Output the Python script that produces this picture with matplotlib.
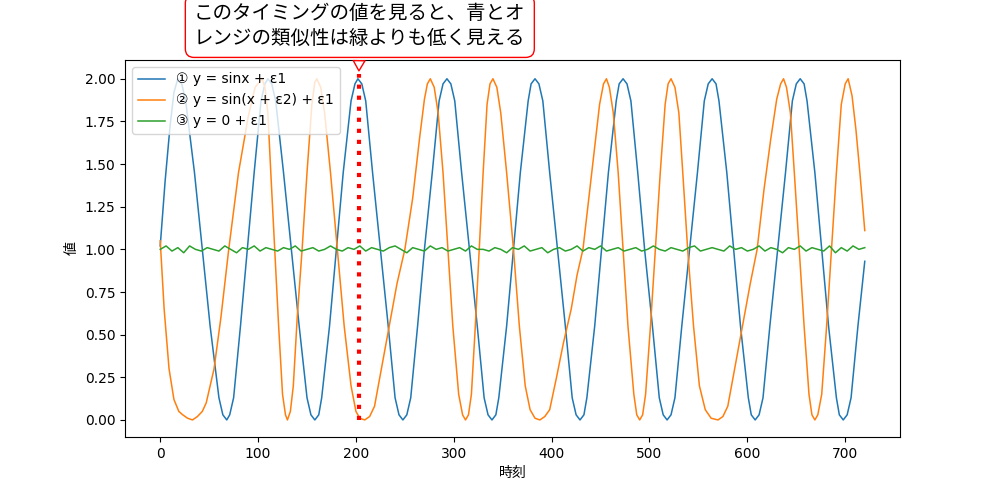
import matplotlib
matplotlib.use("Agg")
import matplotlib.pyplot as plt

plt.rcParams['font.family'] = ['DejaVu Sans', 'Noto Sans CJK JP']

blue_x = [0,5,10,14,18,22,26,35,43,51,60,64,68,71,75,82,89,96,103,107,110,114,118,126,134,142,150,154,158,
          162,165,173,180,187,195,199,202,206,210,217,225,233,240,244,248,252,256,263,270,278,285,289,293,
          297,301,308,316,324,331,335,339,343,346,354,361,368,376,379,383,387,391,398,406,414,421,425,429,
          433,436,444,451,458,466,469,473,477,481,488,495,503,510,514,518,522,526,533,541,549,556,560,564,
          568,571,579,586,593,601,604,608,612,616,623,631,639,646,650,654,658,661,669,676,683,691,694,698,
          702,706,713,720]
blue_y = [1.02,1.40,1.72,1.92,2.0,1.97,1.87,1.45,1.0,0.55,0.13,0.03,0.0,0.03,0.13,0.55,1.0,1.45,1.87,1.97,2.0,
          1.97,1.87,1.45,1.0,0.55,0.13,0.03,0.0,0.03,0.13,0.55,1.0,1.45,1.87,1.97,2.0,1.97,1.87,1.45,1.0,0.55,
          0.13,0.03,0.0,0.03,0.13,0.55,1.0,1.45,1.87,1.97,2.0,1.97,1.87,1.45,1.0,0.55,0.13,0.03,0.0,0.03,0.13,
          0.55,1.0,1.45,1.87,1.97,2.0,1.97,1.87,1.45,1.0,0.55,0.13,0.03,0.0,0.03,0.13,0.55,1.0,1.45,1.87,1.97,
          2.0,1.97,1.87,1.45,1.0,0.55,0.13,0.03,0.0,0.03,0.13,0.55,1.0,1.45,1.87,1.97,2.0,1.97,1.87,1.45,1.0,
          0.55,0.13,0.03,0.0,0.03,0.13,0.55,1.0,1.45,1.87,1.97,2.0,1.97,1.87,1.45,1.0,0.55,0.13,0.03,0.0,
          0.03,0.13,0.55,0.93]

orange_x = [0,4,9,14,19,23,28,33,38,43,47,55,62,70,80,90,97,104,107,110,113,117,121,125,128,130,
            133,136,140,145,150,155,158,160,164,168,174,181,188,195,200,204,209,214,219,226,234,242,250,
            258,265,270,273,276,280,284,289,294,299,305,309,312,315,318,322,326,330,334,337,340,
            344,348,354,361,367,373,378,383,388,393,398,405,412,420,426,432,438,444,449,453,456,
            459,463,468,473,478,484,487,490,493,496,501,506,511,516,519,522,
            526,530,534,539,545,551,557,563,570,575,580,587,595,603,610,617,624,630,634,637,
            640,644,648,653,658,663,666,669,672,676,681,686,691,696,700,703,707,711,715,720]
orange_y = [1.05,0.65,0.3,0.12,0.05,0.03,0.01,0.0,0.02,0.05,0.1,0.3,0.6,1.0,1.45,1.78,1.95,2.0,1.95,1.8,1.45,
            1.0,0.55,0.15,0.03,0.0,0.05,0.2,0.6,1.0,1.45,1.85,1.98,2.0,1.95,1.8,1.45,1.0,0.55,0.2,0.05,0.01,
            0.0,0.02,0.08,0.3,0.55,0.8,1.0,1.3,1.65,1.88,1.97,2.0,1.95,1.8,1.45,1.0,0.55,0.15,0.03,0.0,
            0.03,0.15,0.55,1.0,1.45,1.85,1.97,2.0,1.95,1.8,1.45,1.0,0.55,0.2,0.06,0.01,0.0,0.02,0.06,0.25,
            0.45,0.65,0.85,1.0,1.3,1.6,1.85,1.97,2.0,1.95,1.8,1.45,1.0,0.55,0.15,0.03,0.0,0.03,0.15,0.55,1.0,
            1.45,1.85,1.97,2.0,1.95,1.8,1.45,1.0,0.55,0.2,0.06,0.01,0.0,0.02,0.08,0.3,0.55,0.8,1.0,1.35,1.65,
            1.88,1.97,2.0,1.95,1.8,1.45,1.0,0.55,0.15,0.03,0.0,0.03,0.15,0.55,1.0,1.45,1.85,1.97,2.0,1.9,1.7,
            1.45,1.11]

green_x = [0,6,12,18,24,30,36,42,48,54,60,66,72,78,84,90,96,102,108,114,120,126,132,138,144,150,156,162,
           168,174,180,186,192,198,204,210,216,222,228,234,240,246,252,258,264,270,276,282,288,294,300,
           306,312,318,324,330,336,342,348,354,360,366,372,378,384,390,396,402,408,414,420,426,432,438,
           444,450,456,462,468,474,480,486,492,498,504,510,516,522,528,534,540,546,552,558,564,570,576,
           582,588,594,600,606,612,618,624,630,636,642,648,654,660,666,672,678,684,690,696,702,708,714,720]
green_y = [1.0,1.02,0.99,1.01,0.98,1.02,1.0,0.99,1.01,1.0,0.99,1.02,1.0,0.98,1.01,1.0,1.02,0.99,1.01,1.0,
           0.99,1.01,1.0,1.02,0.99,1.0,1.01,0.99,1.0,1.02,1.0,0.99,1.01,1.0,1.02,0.99,1.01,1.0,0.99,1.01,
           1.02,1.0,0.98,1.01,1.0,0.99,1.02,1.0,1.01,0.99,1.0,1.01,0.99,1.02,1.0,1.0,0.99,1.01,1.0,0.98,
           1.01,1.0,1.02,0.99,1.0,1.01,0.98,1.0,1.01,0.99,1.0,1.02,0.99,1.01,1.0,1.02,0.99,1.0,1.01,0.99,
           1.0,1.01,0.99,1.0,1.02,1.0,0.99,1.01,1.0,0.99,1.01,1.02,0.99,1.0,1.01,1.0,0.99,1.02,1.0,1.01,
           0.99,1.0,1.02,0.99,1.01,1.0,0.98,1.01,1.0,1.02,0.99,1.01,1.0,0.99,1.02,0.98,1.01,0.99,1.02,1.0,1.01]

labels = ['① y = sinx + ε1', '② y = sin(x + ε2) + ε1', '③ y = 0 + ε1']
mark_x = 203
mark_top = 2.03
note = 'このタイミングの値を見ると、青とオ\nレンジの類似性は緑よりも低く見える'

fig = plt.figure(figsize=(10, 5), dpi=100)
ax = fig.add_axes([0.125, 0.126, 0.775, 0.754])
ax.plot(blue_x, blue_y, color='#1f77b4', lw=1.1, label=labels[0])
ax.plot(orange_x, orange_y, color='#ff7f0e', lw=1.1, label=labels[1])
ax.plot(green_x, green_y, color='#2ca02c', lw=1.1, label=labels[2])
ax.plot([mark_x, mark_x], [0, mark_top], color='red', lw=3, ls=':')
ax.set_xlim(-36, 756)
ax.set_ylim(-0.1, 2.11)
ax.set_yticks([0, 0.25, 0.5, 0.75, 1.0, 1.25, 1.5, 1.75, 2.0])
ax.set_xlabel('時刻', family=['Noto Sans CJK JP'])
ax.set_ylabel('値', family=['Noto Sans CJK JP'])
ax.legend(loc='upper left', fontsize=10)
ax.annotate(note, xy=(mark_x, mark_top), xycoords='data',
            xytext=(0.303, 1.09), textcoords='axes fraction',
            ha='center', va='center', fontsize=14, family=['Noto Sans CJK JP'],
            bbox=dict(boxstyle='round,pad=0.45', fc='white', ec='red', lw=1),
            arrowprops=dict(arrowstyle='wedge,tail_width=0.6,shrink_factor=0.5', fc='white', ec='red', lw=1))
fig.savefig('out.png')
